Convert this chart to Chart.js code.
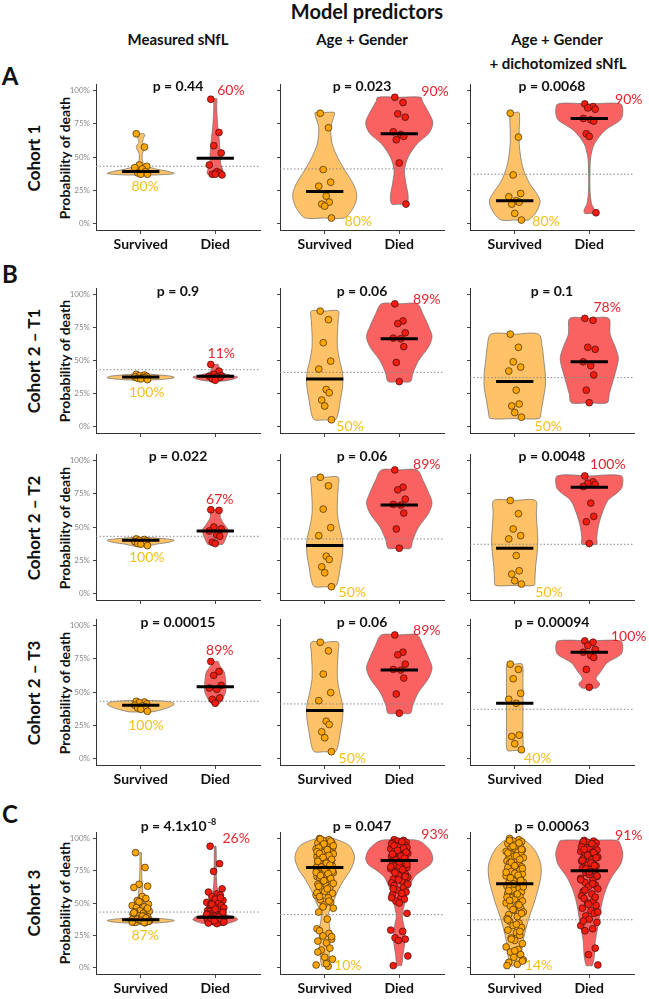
<!DOCTYPE html>
<html>
<head>
<meta charset="utf-8">
<script src="https://cdn.jsdelivr.net/npm/chart.js@4.4.1/dist/chart.umd.min.js"></script>
<style>
  body { margin: 0; background: #fff; }
  #fig { position: relative; width: 649px; height: 999px; overflow: hidden; font-family: Lato, "Open Sans", sans-serif; color: #111; }
  .t { position: absolute; font-weight: bold; white-space: nowrap; transform: translate(-50%, -50%); }
  .rot { position: absolute; font-weight: bold; white-space: nowrap; transform: translate(-50%, -50%) rotate(-90deg); }
  canvas { position: absolute; }
</style>
</head>
<body>
<div id="fig">
  <div class="t" style="left:367px;top:11px;font-size:20px">Model predictors</div>
  <div class="t" style="left:178px;top:39px;font-size:15px">Measured sNfL</div>
  <div class="t" style="left:362px;top:39px;font-size:15px">Age + Gender</div>
  <div class="t" style="left:557px;top:39px;font-size:15px">Age + Gender</div>
  <div class="t" style="left:558px;top:63px;font-size:15px">+ dichotomized sNfL</div>
  <div class="t" style="left:10px;top:75px;font-size:24px">A</div>
  <div class="t" style="left:10px;top:273px;font-size:24px">B</div>
  <div class="t" style="left:10px;top:813px;font-size:24px">C</div>
</div>
<script>
// --- data ---------------------------------------------------------------
var rowNames = ["Cohort 1", "Cohort 2 \u2013 T1", "Cohort 2 \u2013 T2", "Cohort 2 \u2013 T3", "Cohort 3"];
var groups = ["Survived", "Died"];
var yTicks = [0, 0.25, 0.5, 0.75, 1];
var thresholds = [0.43, 0.41, 0.37];
var pValues = [
  ["0.44", "0.023", "0.0068"],
  ["0.9", "0.06", "0.1"],
  ["0.022", "0.06", "0.0048"],
  ["0.00015", "0.06", "0.00094"],
  ["4.1x10^-8", "0.047", "0.00063"]
];
var survPct = [[80, 80, 80], [100, 50, 50], [100, 50, 50], [100, 50, 40], [87, 10, 14]];
var diedPct = [[60, 90, 90], [11, 89, 78], [67, 89, 100], [89, 89, 100], [26, 93, 91]];
var survMedian = [[0.39, 0.24, 0.17], [0.375, 0.36, 0.34], [0.40, 0.36, 0.34], [0.40, 0.36, 0.415], [0.37, 0.775, 0.65]];
var diedMedian = [[0.49, 0.675, 0.79], [0.38, 0.665, 0.49], [0.47, 0.665, 0.80], [0.54, 0.665, 0.80], [0.39, 0.83, 0.75]];

// cohort 1
var r1c1Surv = [0.675, 0.575, 0.44, 0.43, 0.42, 0.41, 0.39, 0.38, 0.37, 0.37];
var r1c1Died = [0.935, 0.685, 0.585, 0.53, 0.44, 0.39, 0.38, 0.37, 0.37, 0.365];
var r1c2Surv = [0.83, 0.72, 0.405, 0.31, 0.28, 0.205, 0.16, 0.145, 0.13, 0.04];
var r1c2Died = [0.95, 0.91, 0.825, 0.80, 0.69, 0.67, 0.655, 0.63, 0.455, 0.145];
var r1c3Surv = [0.83, 0.65, 0.365, 0.225, 0.2, 0.17, 0.16, 0.145, 0.075, 0.025];
var r1c3Died = [0.90, 0.88, 0.87, 0.86, 0.79, 0.78, 0.77, 0.675, 0.655, 0.08];
// violin outlines: [probability, half width]
var r1c1SurvShape = [[0.365,0.22],[0.375,0.45],[0.39,0.38],[0.41,0.2],[0.43,0.09],[0.46,0.03],[0.52,0.02],[0.56,0.05],[0.58,0.06],[0.61,0.025],[0.64,0.035],[0.665,0.055],[0.675,0.045]];
var r1c1DiedShape = [[0.362,0.08],[0.38,0.11],[0.42,0.09],[0.46,0.07],[0.52,0.07],[0.58,0.06],[0.65,0.05],[0.72,0.035],[0.8,0.025],[0.88,0.02],[0.94,0.02]];
var r1c2SurvShape = [[0.04,0.26],[0.08,0.34],[0.15,0.41],[0.22,0.43],[0.3,0.38],[0.4,0.27],[0.5,0.17],[0.6,0.1],[0.72,0.08],[0.8,0.12],[0.835,0.13]];
var r1c2DiedShape = [[0.145,0.1],[0.2,0.12],[0.3,0.09],[0.4,0.07],[0.5,0.12],[0.6,0.24],[0.68,0.4],[0.76,0.45],[0.85,0.38],[0.92,0.31],[0.95,0.29]];
var r1c3SurvShape = [[0.025,0.18],[0.07,0.27],[0.12,0.32],[0.17,0.34],[0.22,0.3],[0.3,0.2],[0.4,0.12],[0.5,0.08],[0.6,0.06],[0.7,0.06],[0.835,0.06]];
var r1c3DiedShape = [[0.075,0.06],[0.1,0.07],[0.15,0.03],[0.25,0.01],[0.4,0.01],[0.5,0.02],[0.6,0.07],[0.7,0.21],[0.78,0.42],[0.84,0.45],[0.9,0.42]];

// cohort 2, age + gender (same at T1, T2, T3)
var ageGenderSurv = [0.875, 0.81, 0.635, 0.495, 0.435, 0.28, 0.255, 0.2, 0.155, 0.05];
var ageGenderDied = [0.93, 0.80, 0.78, 0.71, 0.67, 0.665, 0.605, 0.485, 0.34];
var ageGenderSurvShape = [[0.05,0.14],[0.1,0.18],[0.2,0.21],[0.3,0.24],[0.4,0.24],[0.5,0.2],[0.6,0.17],[0.7,0.17],[0.8,0.18],[0.875,0.18]];
var ageGenderDiedShape = [[0.34,0.15],[0.4,0.18],[0.5,0.26],[0.6,0.39],[0.68,0.44],[0.75,0.4],[0.85,0.32],[0.93,0.24]];

// cohort 2 - T1
var r2c1Surv = [0.395, 0.39, 0.385, 0.38, 0.375, 0.37, 0.37, 0.365, 0.36, 0.355];
var r2c1Died = [0.47, 0.42, 0.395, 0.385, 0.38, 0.375, 0.37, 0.36, 0.35];
var r2c3Surv = [0.70, 0.60, 0.49, 0.45, 0.42, 0.275, 0.17, 0.155, 0.105, 0.07];
var r2c3Died = [0.82, 0.805, 0.60, 0.585, 0.49, 0.46, 0.39, 0.275, 0.18];
var r2c1SurvShape = [[0.352,0.15],[0.36,0.35],[0.37,0.45],[0.38,0.42],[0.39,0.25],[0.398,0.08]];
var r2c1DiedShape = [[0.345,0.12],[0.36,0.25],[0.375,0.3],[0.39,0.2],[0.41,0.08],[0.44,0.05],[0.47,0.04]];
var r2c3SurvShape = [[0.06,0.33],[0.1,0.35],[0.2,0.38],[0.3,0.41],[0.4,0.41],[0.5,0.39],[0.6,0.37],[0.7,0.32]];
var r2c3DiedShape = [[0.18,0.24],[0.25,0.27],[0.35,0.32],[0.45,0.37],[0.52,0.39],[0.6,0.35],[0.7,0.28],[0.82,0.26]];

// cohort 2 - T2
var r3c1Surv = [0.41, 0.405, 0.40, 0.395, 0.39, 0.385, 0.38, 0.375, 0.37, 0.36];
var r3c1Died = [0.63, 0.625, 0.5, 0.485, 0.47, 0.44, 0.43, 0.385, 0.375];
var r3c3Surv = [0.70, 0.60, 0.485, 0.435, 0.41, 0.285, 0.17, 0.145, 0.095, 0.07];
var r3c3Died = [0.885, 0.84, 0.83, 0.82, 0.805, 0.68, 0.58, 0.54, 0.375];
var r3c1SurvShape = [[0.355,0.08],[0.37,0.2],[0.385,0.38],[0.4,0.45],[0.41,0.35],[0.42,0.1]];
var r3c1DiedShape = [[0.37,0.1],[0.4,0.13],[0.44,0.16],[0.48,0.17],[0.52,0.12],[0.57,0.07],[0.63,0.06]];
var r3c3SurvShape = [[0.06,0.26],[0.1,0.27],[0.2,0.28],[0.3,0.3],[0.4,0.31],[0.5,0.3],[0.6,0.29],[0.7,0.28]];
var r3c3DiedShape = [[0.37,0.1],[0.42,0.1],[0.5,0.12],[0.6,0.17],[0.7,0.25],[0.76,0.38],[0.8,0.44],[0.885,0.43]];

// cohort 2 - T3
var r4c1Surv = [0.43, 0.425, 0.42, 0.41, 0.40, 0.395, 0.39, 0.38, 0.37, 0.355];
var r4c1Died = [0.73, 0.655, 0.625, 0.55, 0.53, 0.52, 0.455, 0.445, 0.415];
var r4c3Surv = [0.71, 0.67, 0.60, 0.49, 0.445, 0.415, 0.175, 0.165, 0.11, 0.065];
var r4c3Died = [0.885, 0.875, 0.85, 0.82, 0.80, 0.775, 0.76, 0.67, 0.535];
var r4c1SurvShape = [[0.35,0.15],[0.37,0.3],[0.39,0.4],[0.41,0.45],[0.425,0.4],[0.435,0.2]];
var r4c1DiedShape = [[0.41,0.05],[0.45,0.1],[0.5,0.14],[0.58,0.14],[0.65,0.12],[0.7,0.06],[0.73,0.04]];
var r4c3SurvShape = [[0.06,0.1],[0.2,0.11],[0.4,0.11],[0.6,0.11],[0.71,0.1]];
var r4c3DiedShape = [[0.53,0.1],[0.56,0.14],[0.6,0.09],[0.65,0.15],[0.72,0.24],[0.78,0.42],[0.83,0.45],[0.885,0.42]];

// cohort 3
var r5c1Surv = [0.89, 0.775, 0.645, 0.63, 0.62, 0.55, 0.535, 0.52, 0.505, 0.49, 0.48, 0.47, 0.465, 0.45, 0.44, 0.435, 0.43, 0.42, 0.415, 0.41, 0.405, 0.40, 0.395, 0.39, 0.388, 0.385, 0.38, 0.378, 0.375, 0.372, 0.37, 0.367, 0.365, 0.362, 0.36, 0.357, 0.355, 0.352, 0.35, 0.347,
  0.51, 0.46, 0.425, 0.398, 0.383, 0.374, 0.366, 0.358, 0.353, 0.349];
var r5c1Died = [0.94, 0.805, 0.745, 0.61, 0.585, 0.57, 0.56, 0.548, 0.53, 0.52, 0.505, 0.5, 0.494, 0.48, 0.47, 0.463, 0.455, 0.448, 0.44, 0.435, 0.43, 0.425, 0.42, 0.415, 0.41, 0.405, 0.40, 0.398, 0.395, 0.39, 0.388, 0.385, 0.383, 0.38, 0.378, 0.375, 0.37, 0.368, 0.365, 0.36, 0.355, 0.35, 0.345, 0.34,
  0.54, 0.49, 0.452, 0.428, 0.412, 0.392, 0.382, 0.372, 0.362, 0.352];
var r5c2Surv = [1.0, 0.99, 0.985, 0.97, 0.965, 0.955, 0.95, 0.94, 0.935, 0.925, 0.92, 0.91, 0.905, 0.895, 0.89, 0.88, 0.875, 0.865, 0.86, 0.85, 0.845, 0.835, 0.83, 0.82, 0.815, 0.805, 0.8, 0.79, 0.785, 0.775, 0.77, 0.76, 0.755, 0.745, 0.735, 0.725, 0.715, 0.705, 0.695, 0.68, 0.67, 0.66, 0.645, 0.635, 0.62, 0.605, 0.59, 0.575, 0.56, 0.54, 0.525, 0.505, 0.485, 0.46, 0.43, 0.375, 0.30, 0.285, 0.265, 0.245, 0.22, 0.205, 0.19, 0.15, 0.135, 0.08, 0.065, 0.02, 0.01,
  0.995, 0.978, 0.958, 0.943, 0.928, 0.913, 0.898, 0.883, 0.868, 0.853, 0.838, 0.823, 0.808, 0.793, 0.778, 0.763, 0.748, 0.738, 0.728, 0.712, 0.69, 0.672, 0.652, 0.63, 0.61, 0.58, 0.55, 0.515, 0.47, 0.24, 0.12, 0.03];
var r5c2Died = [0.99, 0.985, 0.98, 0.97, 0.965, 0.955, 0.95, 0.94, 0.935, 0.93, 0.92, 0.915, 0.905, 0.9, 0.89, 0.885, 0.875, 0.87, 0.86, 0.855, 0.845, 0.84, 0.83, 0.825, 0.815, 0.805, 0.795, 0.785, 0.775, 0.765, 0.75, 0.74, 0.725, 0.715, 0.70, 0.685, 0.67, 0.655, 0.635, 0.62, 0.60, 0.585, 0.565, 0.545, 0.53, 0.515, 0.50, 0.42, 0.29, 0.28, 0.23, 0.22, 0.21, 0.09, 0.015,
  0.975, 0.958, 0.945, 0.925, 0.908, 0.893, 0.878, 0.862, 0.848, 0.833, 0.818, 0.8, 0.78, 0.758, 0.735, 0.705, 0.68, 0.645, 0.61, 0.575, 0.54];
var r5c3Surv = [1.0, 0.99, 0.98, 0.975, 0.96, 0.955, 0.945, 0.93, 0.925, 0.91, 0.9, 0.895, 0.88, 0.875, 0.86, 0.85, 0.845, 0.83, 0.825, 0.81, 0.8, 0.795, 0.78, 0.775, 0.76, 0.755, 0.745, 0.73, 0.725, 0.71, 0.705, 0.69, 0.68, 0.67, 0.66, 0.655, 0.64, 0.63, 0.62, 0.61, 0.6, 0.585, 0.575, 0.565, 0.55, 0.54, 0.525, 0.515, 0.5, 0.49, 0.475, 0.46, 0.445, 0.43, 0.41, 0.395, 0.38, 0.36, 0.345, 0.325, 0.31, 0.29, 0.27, 0.25, 0.23, 0.21, 0.185, 0.16, 0.14, 0.12, 0.1, 0.08, 0.06, 0.04, 0.025, 0.015,
  0.985, 0.965, 0.94, 0.915, 0.888, 0.865, 0.838, 0.815, 0.788, 0.768, 0.738, 0.715, 0.695, 0.675, 0.648, 0.625, 0.595, 0.57, 0.545, 0.52, 0.485, 0.45, 0.42, 0.37, 0.335, 0.28, 0.22, 0.13, 0.05];
var r5c3Died = [0.985, 0.98, 0.97, 0.965, 0.955, 0.945, 0.94, 0.93, 0.92, 0.91, 0.9, 0.895, 0.885, 0.875, 0.865, 0.855, 0.845, 0.835, 0.825, 0.815, 0.805, 0.795, 0.785, 0.77, 0.76, 0.75, 0.735, 0.72, 0.705, 0.69, 0.675, 0.66, 0.64, 0.625, 0.61, 0.59, 0.57, 0.555, 0.535, 0.515, 0.5, 0.48, 0.46, 0.44, 0.42, 0.4, 0.375, 0.35, 0.325, 0.3, 0.285, 0.15, 0.1, 0.02,
  0.975, 0.96, 0.935, 0.915, 0.89, 0.87, 0.85, 0.83, 0.81, 0.79, 0.765, 0.74, 0.71, 0.68, 0.65, 0.6, 0.545, 0.49, 0.43, 0.36];
var r5c1SurvShape = [[0.345,0.2],[0.355,0.4],[0.365,0.45],[0.375,0.35],[0.39,0.1],[0.42,0.05],[0.5,0.04],[0.6,0.025],[0.7,0.015],[0.8,0.01],[0.89,0.01]];
var r5c1DiedShape = [[0.335,0.12],[0.35,0.22],[0.37,0.3],[0.39,0.27],[0.41,0.15],[0.45,0.08],[0.5,0.06],[0.55,0.05],[0.6,0.03],[0.7,0.015],[0.8,0.015],[0.94,0.01]];
var r5c2SurvShape = [[0.01,0.04],[0.1,0.06],[0.2,0.07],[0.3,0.07],[0.4,0.045],[0.45,0.07],[0.5,0.11],[0.6,0.18],[0.7,0.28],[0.75,0.34],[0.8,0.38],[0.85,0.4],[0.9,0.38],[0.95,0.32],[1.0,0.11]];
var r5c2DiedShape = [[0.015,0.03],[0.1,0.05],[0.2,0.075],[0.3,0.07],[0.4,0.04],[0.5,0.075],[0.6,0.12],[0.7,0.2],[0.75,0.3],[0.8,0.42],[0.85,0.45],[0.92,0.4],[0.985,0.25]];
var r5c3SurvShape = [[0.015,0.07],[0.1,0.09],[0.2,0.11],[0.3,0.15],[0.4,0.2],[0.5,0.26],[0.6,0.31],[0.7,0.35],[0.8,0.35],[0.9,0.28],[0.95,0.21],[1.0,0.09]];
var r5c3DiedShape = [[0.015,0.04],[0.1,0.07],[0.2,0.08],[0.3,0.11],[0.4,0.14],[0.5,0.17],[0.6,0.22],[0.7,0.3],[0.8,0.42],[0.88,0.45],[0.95,0.42],[0.985,0.38]];

// --- layout (page pixels) ----------------------------------------------
var colLeft = [96, 280, 470];
var colWidth = 164;
var rowTop100 = [91, 295, 461, 626, 838];
var rowZero = [224, 427, 594, 759, 967];
var showXLabels = [true, false, false, true, true];
var pLabelY = [1.03, 1.025, 1.035, 1.025, 1.09];
var survLabelPos = [[[1.06,0.28],[1.45,0.015],[1.42,0.015]], [[1.08,0.26],[1.34,0.0],[1.45,0.0]], [[1.08,0.27],[1.37,0.01],[1.46,0.01]], [[1.07,0.25],[1.37,0.0],[1.31,0.0]], [[1.06,0.25],[1.31,0.013],[1.32,0.013]]];
var diedLabelPos = [[[2.21,1.0],[2.48,0.99],[2.53,0.93]], [[2.08,0.55],[2.37,0.96],[2.24,0.90]], [[2.06,0.705],[2.37,0.97],[2.25,0.97]], [[2.06,0.81],[2.37,0.96],[2.53,0.92]], [[2.28,1.0],[2.48,1.03],[2.53,1.02]]];
var JIT = [-0.06, 0.05, -0.02, 0.08, -0.08, 0.02, 0.06, -0.04, 0.0, 0.09, -0.1, 0.04, -0.05, 0.07, -0.01, 0.1, -0.07, 0.03, -0.09];

var survFill = "#FFC266", diedFill = "#FA6262";
var survDot = "#FFA500", diedDot = "#F41B0F";
var survText = "#F4BF1A", diedText = "#E3242B";

var panels = [
  [[r1c1Surv, r1c1Died, r1c1SurvShape, r1c1DiedShape], [r1c2Surv, r1c2Died, r1c2SurvShape, r1c2DiedShape], [r1c3Surv, r1c3Died, r1c3SurvShape, r1c3DiedShape]],
  [[r2c1Surv, r2c1Died, r2c1SurvShape, r2c1DiedShape], [ageGenderSurv, ageGenderDied, ageGenderSurvShape, ageGenderDiedShape], [r2c3Surv, r2c3Died, r2c3SurvShape, r2c3DiedShape]],
  [[r3c1Surv, r3c1Died, r3c1SurvShape, r3c1DiedShape], [ageGenderSurv, ageGenderDied, ageGenderSurvShape, ageGenderDiedShape], [r3c3Surv, r3c3Died, r3c3SurvShape, r3c3DiedShape]],
  [[r4c1Surv, r4c1Died, r4c1SurvShape, r4c1DiedShape], [ageGenderSurv, ageGenderDied, ageGenderSurvShape, ageGenderDiedShape], [r4c3Surv, r4c3Died, r4c3SurvShape, r4c3DiedShape]],
  [[r5c1Surv, r5c1Died, r5c1SurvShape, r5c1DiedShape], [r5c2Surv, r5c2Died, r5c2SurvShape, r5c2DiedShape], [r5c3Surv, r5c3Died, r5c3SurvShape, r5c3DiedShape]]
];

function violinOutline(center, shape) {
  var pts = [{x: center, y: shape[0][0]}];
  shape.forEach(function(s) { pts.push({x: center + s[1], y: s[0]}); });
  pts.push({x: center, y: shape[shape.length - 1][0]});
  for (var i = shape.length - 1; i >= 0; i--) pts.push({x: center - shape[i][1], y: shape[i][0]});
  pts.push({x: center, y: shape[0][0]});
  return pts;
}

function jittered(center, values, spread) {
  return values.map(function(v, i) { return {x: center + JIT[i % JIT.length] * spread, y: v}; });
}

var panelText = {
  id: "panelText",
  afterDatasetsDraw: function(chart) {
    var o = chart.options.plugins.panelText;
    var ctx = chart.ctx, xs = chart.scales.x, ys = chart.scales.y;
    ctx.save();
    ctx.textBaseline = "middle";
    var px = xs.getPixelForValue(1.5), py = ys.getPixelForValue(o.pY);
    var parts = o.p.split("^");
    ctx.fillStyle = "#111";
    ctx.font = "bold 14px Lato";
    var base = "p = " + parts[0];
    var bw = ctx.measureText(base).width;
    var sw = 0;
    if (parts[1]) { ctx.font = "bold 9px Lato"; sw = ctx.measureText(parts[1]).width; }
    var x0 = px - (bw + sw) / 2;
    ctx.textAlign = "left";
    ctx.font = "bold 14px Lato";
    ctx.fillText(base, x0, py);
    if (parts[1]) { ctx.font = "bold 9px Lato"; ctx.fillText(parts[1], x0 + bw + 1, py - 5); }
    ctx.textAlign = "center";
    ctx.font = "14px Lato";
    ctx.fillStyle = survText;
    ctx.fillText(o.surv + "%", xs.getPixelForValue(o.sPos[0]), ys.getPixelForValue(o.sPos[1]));
    ctx.fillStyle = diedText;
    ctx.fillText(o.died + "%", xs.getPixelForValue(o.dPos[0]), ys.getPixelForValue(o.dPos[1]));
    ctx.restore();
  }
};

var fig = document.getElementById("fig");

rowNames.forEach(function(name, r) {
  var mid = (rowTop100[r] + rowZero[r]) / 2;
  var d1 = document.createElement("div");
  d1.className = "rot"; d1.style.left = "33px"; d1.style.top = mid + "px"; d1.style.fontSize = "17px";
  d1.textContent = name;
  fig.appendChild(d1);
  var d2 = document.createElement("div");
  d2.className = "rot"; d2.style.left = "64px"; d2.style.top = mid + "px"; d2.style.fontSize = "14px";
  d2.textContent = "Probability of death";
  fig.appendChild(d2);
});

for (var r = 0; r < 5; r++) {
  for (var c = 0; c < 3; c++) {
    (function(r, c) {
      var p = panels[r][c];
      var h = rowZero[r] - rowTop100[r];
      var areaH = h * 1.1;
      var areaTop = rowTop100[r] - 0.05 * h;
      var cv = document.createElement("canvas");
      var W = 40 + colWidth + 18, H = Math.round(24 + areaH + 28);
      cv.width = W; cv.height = H;
      cv.style.left = (colLeft[c] - 40) + "px";
      cv.style.top = Math.round(areaTop - 24) + "px";
      fig.appendChild(cv);
      var spread = r === 4 ? 1.15 : 1.0;
      var thr = thresholds[c];
      new Chart(cv, {
        type: "scatter",
        data: {
          datasets: [
            {data: [{x: 0.75, y: survMedian[r][c]}, {x: 1.25, y: survMedian[r][c]}], showLine: true, borderColor: "#000", borderWidth: 3, pointRadius: 0, order: 1},
            {data: [{x: 1.75, y: diedMedian[r][c]}, {x: 2.25, y: diedMedian[r][c]}], showLine: true, borderColor: "#000", borderWidth: 3, pointRadius: 0, order: 1},
            {data: jittered(1, p[0], spread), pointRadius: 3.4, pointBackgroundColor: survDot, pointBorderColor: "#3a2a10", pointBorderWidth: 0.7, order: 2},
            {data: jittered(2, p[1], spread), pointRadius: 3.4, pointBackgroundColor: diedDot, pointBorderColor: "#3a1010", pointBorderWidth: 0.7, order: 2},
            {data: [{x: 0.4, y: thr}, {x: 2.6, y: thr}], showLine: true, borderColor: "#888", borderWidth: 1, borderDash: [1.5, 2], pointRadius: 0, order: 3},
            {data: violinOutline(1, p[2]), showLine: true, fill: "shape", backgroundColor: survFill, borderColor: "#6b6b6b", borderWidth: 0.7, pointRadius: 0, tension: 0.3, order: 4},
            {data: violinOutline(2, p[3]), showLine: true, fill: "shape", backgroundColor: diedFill, borderColor: "#6b6b6b", borderWidth: 0.7, pointRadius: 0, tension: 0.3, order: 4}
          ]
        },
        options: {
          responsive: false,
          animation: false,
          devicePixelRatio: 1,
          layout: {padding: {top: 24, right: 18, left: 0, bottom: 0}},
          plugins: {
            legend: {display: false},
            tooltip: {enabled: false},
            panelText: {p: pValues[r][c], pY: pLabelY[r], surv: survPct[r][c], died: diedPct[r][c], sPos: survLabelPos[r][c], dPos: diedLabelPos[r][c]}
          },
          scales: {
            x: {
              type: "linear", min: 0.4, max: 2.6,
              afterBuildTicks: function(s) { s.ticks = [{value: 1}, {value: 2}]; },
              afterFit: function(s) { s.height = 28; },
              ticks: {display: showXLabels[r], autoSkip: false, maxRotation: 0, padding: 2, color: "#111",
                font: {family: "Lato", size: 14, weight: "bold"},
                callback: function(v) { return v === 1 ? groups[0] : groups[1]; }},
              grid: {display: true, drawOnChartArea: false, drawTicks: true, tickLength: 4, color: "#444"},
              border: {display: true, color: "#333", width: 1}
            },
            y: {
              min: -0.05, max: 1.05,
              afterBuildTicks: function(s) { s.ticks = yTicks.map(function(v) { return {value: v}; }); },
              afterFit: function(s) { s.width = 40; },
              ticks: {padding: 3, color: "#888", font: {family: "Lato", size: 8},
                callback: function(v) { return c === 0 ? Math.round(v * 100) + "%" : ""; }},
              grid: {display: true, drawOnChartArea: false, drawTicks: true, tickLength: 3, color: "#444"},
              border: {display: true, color: "#333", width: 1}
            }
          }
        },
        plugins: [panelText]
      });
    })(r, c);
  }
}
</script>
</body>
</html>
